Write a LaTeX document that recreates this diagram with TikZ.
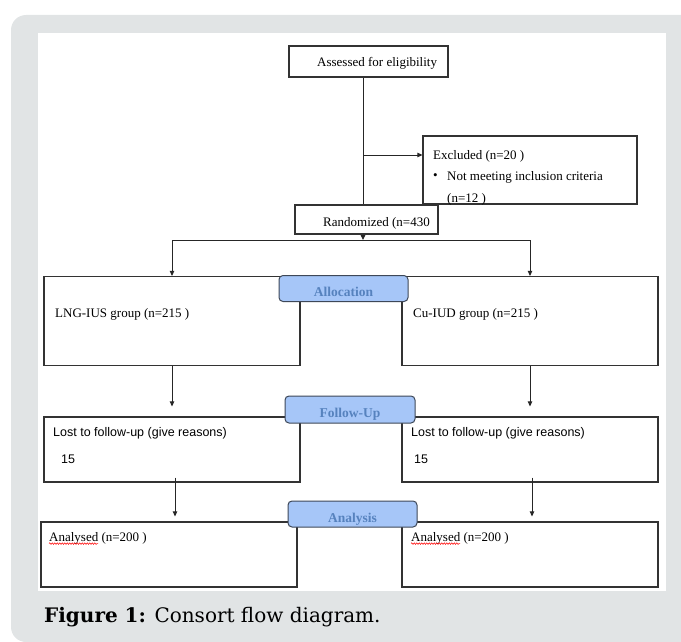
\documentclass[tikz,border=0pt]{standalone}
\usepackage{fontspec}
\setmainfont{Liberation Serif}
\setsansfont{Liberation Sans}
\newfontfamily\capfont{DejaVu Serif}
\usetikzlibrary{arrows.meta,decorations.pathmorphing}

\definecolor{panelgray}{RGB}{225,228,229}
\definecolor{tabblue}{RGB}{166,198,248}
\definecolor{tabline}{RGB}{62,72,88}
\definecolor{tabtext}{RGB}{86,130,190}

\tikzset{
  box/.style={draw=black!80, line width=1.2pt, fill=white, inner sep=0pt},
  tab/.style={draw=tabline, line width=1pt, fill=tabblue, rounded corners=4pt,
    inner sep=0pt, minimum width=129pt, minimum height=26pt,
    text=tabtext, font=\fontsize{13.5}{15}\selectfont\bfseries,
    text height=16pt, text depth=0pt},
  txt/.style={anchor=west, inner sep=0pt, font=\fontsize{13}{15}\selectfont},
  stxt/.style={anchor=west, inner sep=0pt, font=\sffamily\fontsize{12.5}{15}\selectfont},
  flow/.style={line width=0.9pt, black!85},
  arr/.style={flow, -{Triangle[length=5pt,width=4.5pt]}},
  spell/.style={red, line width=0.5pt, decorate,
    decoration={snake, amplitude=0.8pt, segment length=2.5pt}},
}

\begin{document}
\begin{tikzpicture}[x=1pt, y=-1pt]
    \useasboundingbox (0,0) rectangle (681,642);

    % Panel behind the figure
    \fill[panelgray, rounded corners=15pt] (11,15) rectangle (720,642);
    \fill[white] (38,33) rectangle (666,591);

    % Enrolment
    \node[box, minimum width=159pt, minimum height=31pt] (assess) at (368.5,61.5) {};
    \node[txt] (assesst) at (317,63) {Assessed for eligibility};

    \node[box, minimum width=214pt, minimum height=68pt] (excl) at (530,170) {};
    \node[txt] (exclt) at (433,156) {Excluded (n=20 )};
    \node[txt, font=\fontsize{13}{15}\selectfont] (exclb) at (433,177) {\textbullet};
    \node[txt] (excla) at (447,177) {Not meeting inclusion criteria};
    \node[txt] (exclc) at (447,199) {(n=12 )};

    \node[box, minimum width=143pt, minimum height=29pt] (rand) at (366.5,219.5) {};
    \node[txt] (randt) at (323,223) {Randomized (n=430};

    % Group boxes
    \foreach \s/\x in {L/172, R/530} {
        \node[box, minimum width=256pt, minimum height=89pt] (grp\s) at (\x,321) {};
        \node[box, minimum width=256pt, minimum height=65pt] (lost\s) at (\x,449.5) {};
    }
    \node[box, minimum width=256pt, minimum height=65pt] (anaL) at (169,554.5) {};
    \node[box, minimum width=256pt, minimum height=65pt] (anaR) at (530,554.5) {};

    \node[txt] (grpLt) at (55,314) {LNG-IUS group (n=215 )};
    \node[txt] (grpRt) at (413,314) {Cu-IUD group (n=215 )};
    \node[stxt] (lostLt) at (53,433) {Lost to follow-up (give reasons)};
    \node[stxt] (lostLn) at (61,459) {15};
    \node[stxt] (lostRt) at (411,433) {Lost to follow-up (give reasons)};
    \node[stxt] (lostRn) at (414,459) {15};
    \node[txt] (anaLt) at (49,538) {Analysed (n=200 )};
    \node[txt] (anaRt) at (411,538) {Analysed (n=200 )};
    \foreach \s in {L, R}
        \draw[spell] ([yshift=-2.5pt]ana\s t.base west) -- ++(49,0);

    % Connectors
    \coordinate (split) at (363,155);
    \coordinate (fork) at (363,240);
    \draw[flow] (assess.south -| split) -- (rand.north -| split);
    \draw[arr] (split) -- (split -| excl.west);
    \draw[arr] (rand.south -| fork) -- (fork);
    \draw[flow] (fork -| grpL) -- (fork -| grpR);
    \foreach \s in {L, R} {
        \draw[arr] (fork -| grp\s) -- (grp\s.north);
        \draw[arr, shorten >=10pt] (grp\s.south) -- (lost\s.north);
    }
    \draw[arr, shorten >=5pt] ([xshift=3pt,yshift=5pt]lostL.south) -- ([xshift=3pt]lostL.south |- anaL.north);
    \draw[arr, shorten >=5pt] ([xshift=2pt,yshift=5pt]lostR.south) -- ([xshift=2pt]lostR.south |- anaR.north);

    % Stage tabs
    \node[tab] (alloc) at (343.5,288.5) {Allocation};
    \node[tab, minimum width=130pt, minimum height=27pt] (follow) at (350,409.5) {Follow-Up};
    \node[tab] (analysis) at (352.5,514) {Analysis};

    % Caption
    \node[anchor=west, inner sep=0pt, font=\capfont\fontsize{20}{24}\selectfont] (caption) at (44,617)
        {\textbf{Figure 1:} Consort flow diagram.};
\end{tikzpicture}
\end{document}
